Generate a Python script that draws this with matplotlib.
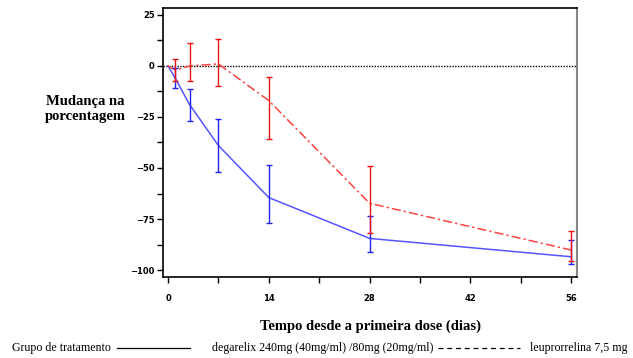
import matplotlib
matplotlib.use("Agg")
import matplotlib.pyplot as plt
from matplotlib.ticker import MultipleLocator
from matplotlib.lines import Line2D

days = [0, 1, 3, 7, 14, 28, 56]
deg_mean = [0, -6, -19, -39, -64.5, -84.5, -93.5]
deg_low = [0, -10.8, -26.8, -51.8, -77, -91.3, -97]
deg_high = [0, -1, -11.3, -26, -48.5, -73.4, -85.3]
leu_mean = [0, -2, 0, 1, -17, -67.3, -90.2]
leu_low = [0, -7.2, -7.2, -10, -36, -81.7, -95.4]
leu_high = [0, 3.4, 11, 13, -5.5, -48.8, -80.7]

yticks = [25, 0, -25, -50, -75, -100]
xticks = [0, 14, 28, 42, 56]

fig = plt.figure(figsize=(6.33, 3.58), dpi=100)
ax = fig.add_axes([0.2575, 0.2263, 0.654, 0.7514])

ax.axhline(0, color="black", linestyle=(0, (1, 1)), linewidth=1.0, zorder=1)

def err(mean, low, high):
    return [[m - l for m, l in zip(mean, low)], [h - m for m, h in zip(mean, high)]]

ed = err(deg_mean, deg_low, deg_high)
el = err(leu_mean, leu_low, leu_high)
ax.plot(days, deg_mean, color="#5555ff", linewidth=1.1, zorder=3)
ax.errorbar(days[1:], deg_mean[1:], yerr=[e[1:] for e in ed], fmt="none",
            ecolor="#2222ee", elinewidth=1.0, capsize=2, capthick=1.0, zorder=4)
ax.plot(days, leu_mean, color="#ff4444", linewidth=1.1, linestyle=(0, (6, 2, 1.5, 2)), zorder=3)
ax.errorbar(days[1:], leu_mean[1:], yerr=[e[1:] for e in el], fmt="none",
            ecolor="#ee1111", elinewidth=1.0, capsize=2, capthick=1.0, zorder=5)

ax.set_xlim(-0.7, 56.8)
ax.set_ylim(-103.4, 28.4)
ax.set_xticks(xticks)
ax.set_xticklabels([str(v) for v in xticks])
ax.xaxis.set_minor_locator(MultipleLocator(7))
ax.set_yticks(yticks)
ax.set_yticklabels([str(v).replace("-", "\u2212") if v < 0 else str(v) for v in yticks])
ax.yaxis.set_minor_locator(MultipleLocator(12.5))
ax.tick_params(axis="both", which="major", direction="out", length=4, width=1,
               labelsize=6, colors="black")
ax.tick_params(axis="x", which="major", pad=8)
ax.tick_params(axis="y", which="major", pad=2)
ax.tick_params(axis="both", which="minor", direction="out", length=4, width=1)
for lbl in ax.get_xticklabels() + ax.get_yticklabels():
    lbl.set_fontweight("bold")
    lbl.set_family("DejaVu Sans")
for s in ["left", "bottom", "top"]:
    ax.spines[s].set_linewidth(1.2)
    ax.spines[s].set_color("black")
ax.spines["right"].set_linewidth(1.5)
ax.spines["right"].set_color("#888888")

fig.text(0.135, 0.695, "Mudança na\nporcentagem", ha="center", va="center",
         fontsize=10.5, fontweight="bold", family="Liberation Serif", linespacing=1.15)
fig.text(0.585, 0.088, "Tempo desde a primeira dose (dias)", ha="center", va="center",
         fontsize=10.5, fontweight="bold", family="Liberation Serif")

ly = 0.027
fs = 8.6
fig.text(0.019, ly, "Grupo de tratamento", ha="left", va="center", fontsize=fs, family="Liberation Serif")
fig.add_artist(Line2D([0.185, 0.300], [ly, ly], color="black", linewidth=0.9, transform=fig.transFigure))
fig.text(0.335, ly, "degarelix 240mg (40mg/ml) /80mg (20mg/ml)", ha="left", va="center", fontsize=fs, family="Liberation Serif")
fig.add_artist(Line2D([0.692, 0.822], [ly, ly], color="black", linewidth=0.9, linestyle=(0, (4, 3)), transform=fig.transFigure))
fig.text(0.837, ly, "leuprorrelina 7,5 mg", ha="left", va="center", fontsize=fs, family="Liberation Serif")

fig.savefig("out.png", dpi=100)
